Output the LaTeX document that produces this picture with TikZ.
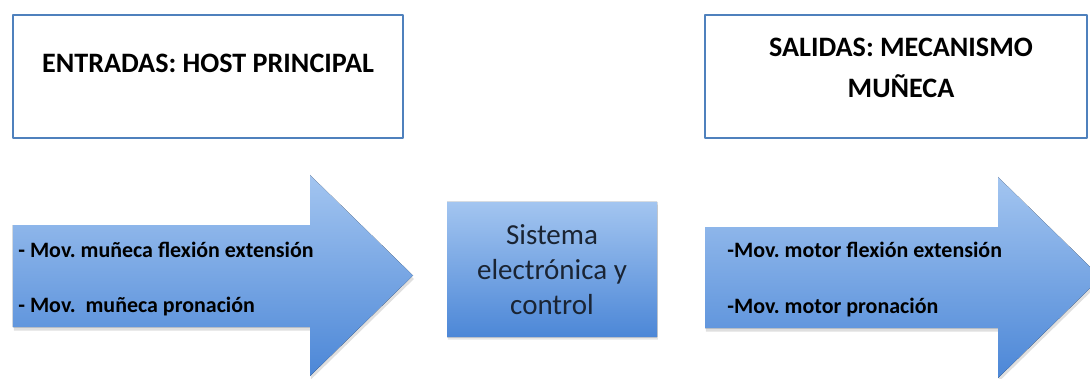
\documentclass[tikz,border=0pt]{standalone}
\usepackage{fontspec}
\setmainfont{Carlito}
\usepackage{tkz-euclide}
\usetikzlibrary{shadows}
\definecolor{FrameClr}{HTML}{4F81BD}
\definecolor{ArrowTop}{HTML}{A3C5F0}
\definecolor{ArrowBot}{HTML}{4C87D7}
\definecolor{BoxText}{HTML}{1A2433}
\frenchspacing

\tikzset{
  titlebox/.style={font=\fontsize{16}{23}\selectfont\bfseries,align=center},
  arrowtext/.style={font=\fontsize{12.5}{15}\selectfont\bfseries,anchor=base west,inner sep=0pt},
  ctrltext/.style={font=\fontsize{16.5}{20}\selectfont,text=BoxText,align=center},
  flowfill/.style={top color=ArrowTop,bottom color=ArrowBot,
    drop shadow={opacity=0.25,shadow xshift=0.5pt,shadow yshift=-2pt}}
}

\begin{document}
\begin{tikzpicture}
\useasboundingbox (0,0) rectangle (21.8,7.56);
\clip (0,0) rectangle (21.8,7.56);
\tkzSetUpLine[line width=1.6pt,color=FrameClr]

% title frames
\tkzDefPoints{0.26/7.26/A,8.06/7.26/B,8.06/4.80/C,0.26/4.80/D}
\tkzDefPoints{14.10/7.26/E,21.74/7.26/F,21.74/4.80/G,14.10/4.80/H}
\tkzDrawPolygon(A,B,C,D)
\tkzDrawPolygon(E,F,G,H)

\node[titlebox] (tin) at (4.16,6.30) {ENTRADAS: HOST PRINCIPAL};
\node[titlebox] (tout) at (18.02,6.20) {SALIDAS: MECANISMO\\MUÑECA};

% block arrows
\tkzDefPoints{0.26/3.06/iA,6.20/3.06/iB,6.20/4.06/iC,8.26/2.05/iD,
  6.20/0.04/iE,6.20/1.02/iF,0.26/1.02/iG}
\tkzDefPoints{14.10/3.02/oA,19.96/3.02/oB,19.96/4.02/oC,22.02/2.01/oD,
  19.96/0.00/oE,19.96/1.00/oF,14.10/1.00/oG}
\tkzFillPolygon[flowfill](iA,iB,iC,iD,iE,iF,iG)
\tkzFillPolygon[flowfill](oA,oB,oC,oD,oE,oF,oG)

\node[arrowtext] (in1) at (0.36,2.42) {- Mov. muñeca flexión extensión};
\node[arrowtext] (in2) at (0.36,1.32) {- Mov.\ \ muñeca pronación};
\node[arrowtext] (out1) at (14.54,2.42) {-Mov. motor flexión extensión};
\node[arrowtext] (out2) at (14.54,1.30) {-Mov. motor pronación};

% control block
\tkzDefPoints{8.94/3.52/K,13.14/3.52/L,13.14/0.82/M,8.94/0.82/N}
\tkzFillPolygon[top color=ArrowTop,bottom color=ArrowBot,
  drop shadow={opacity=0.2,shadow xshift=0.5pt,shadow yshift=-1.5pt}](K,L,M,N)
\node[ctrltext] (ctrl) at (11.04,2.17) {Sistema\\electrónica y\\control};

\end{tikzpicture}
\end{document}
